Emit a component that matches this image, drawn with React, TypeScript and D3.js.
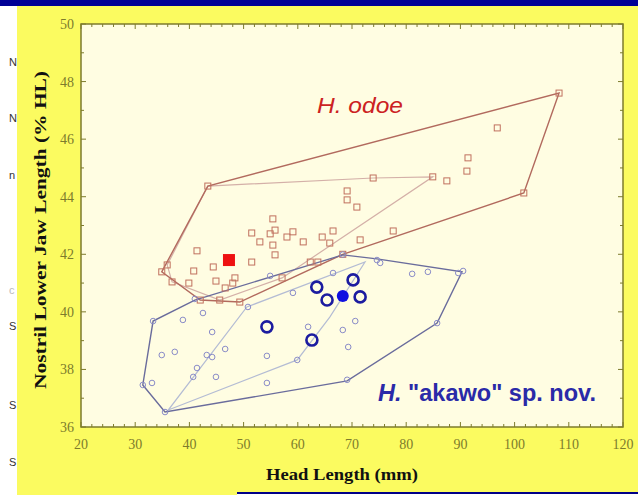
import React from "react";
import * as d3 from "d3";

// H. odoe (red squares) : head length (mm), nostril lower jaw length (% HL)
const odoeX = [73.9, 84.9, 69.1, 69.1, 70.9, 55.4, 55.8, 51.5, 54.9, 58.0, 59.1, 61.0, 64.5, 66.5, 65.9, 71.5, 77.6, 53.0, 55.4, 41.4, 55.8, 108.2, 96.8, 91.4, 91.2, 87.5, 101.7, 51.5, 35.9, 40.8, 44.4, 44.9, 39.9, 36.8, 34.9, 48.4, 48.0, 46.6, 45.6, 42.0, 49.3, 57.1, 62.3, 63.7, 68.3, 43.4];
const odoeY = [44.65, 44.69, 44.2, 43.89, 43.64, 43.23, 42.84, 42.74, 42.71, 42.6, 42.78, 42.43, 42.6, 42.81, 42.39, 42.5, 42.81, 42.43, 42.32, 42.12, 41.98, 47.6, 46.39, 45.35, 44.89, 44.55, 44.13, 41.73, 41.63, 41.42, 41.56, 41.07, 41.0, 41.04, 41.39, 41.18, 41.0, 40.83, 40.41, 40.41, 40.34, 41.18, 41.73, 41.73, 42.0, 44.37];
const odoeMean = [47.3, 41.8];
const odoeOuterX = [108.2, 101.7, 68.3, 49.3, 42.0, 34.9, 43.4];
const odoeOuterY = [47.6, 44.13, 42.0, 40.34, 40.41, 41.39, 44.37];
const odoeInnerX = [43.4, 73.9, 84.9, 57.1, 45.6, 36.8, 35.9];
const odoeInnerY = [44.37, 44.65, 44.69, 41.18, 40.41, 41.04, 41.63];

// H. "akawo" sp. nov. (blue circles)
const akawoX = [38.8, 44.2, 46.6, 43.2, 44.2, 37.3, 34.9, 41.4, 40.7, 44.9, 54.3, 54.3, 59.9, 61.9, 68.3, 69.3, 70.6, 66.5, 59.1, 50.8, 42.5, 54.9, 69.1, 31.4, 33.1, 35.5, 33.3, 41.0, 68.3, 74.6, 75.2, 81.1, 84.0, 89.6, 90.5, 85.7];
const akawoY = [39.72, 39.3, 38.71, 38.5, 38.43, 38.61, 38.5, 38.05, 37.74, 37.74, 38.47, 37.53, 38.33, 39.48, 39.37, 38.78, 39.68, 41.35, 40.66, 40.17, 39.96, 41.25, 37.64, 37.46, 37.53, 36.52, 39.68, 40.45, 41.99, 41.8, 41.7, 41.32, 41.39, 41.35, 41.42, 39.61];
const akawoBigX = [63.5, 65.4, 70.2, 71.5, 54.3, 62.6];
const akawoBigY = [40.86, 40.41, 41.11, 40.52, 39.48, 39.02];
const akawoMean = [68.3, 40.55];
const akawoOuterX = [41.0, 68.3, 74.6, 90.3, 85.7, 69.1, 35.5, 31.4, 33.3];
const akawoOuterY = [40.41, 41.98, 41.84, 41.39, 39.61, 37.6, 36.52, 37.46, 39.68];
const akawoInnerX = [50.6, 72.4, 65.9, 59.9, 36.1];
const akawoInnerY = [40.17, 41.73, 39.82, 38.33, 36.59];

const xTicks = [20, 30, 40, 50, 60, 70, 80, 90, 100, 110, 120];
const yTicks = [36, 38, 40, 42, 44, 46, 48, 50];
const sideLetters = ["N", "N", "n", "c", "S", "S", "S"];
const sideLetterY = [62, 118, 175, 290, 326, 405, 462];

const W = 638;
const H = 495;
const left = 81, right = 623, top = 24, bottom = 427;

const App = () => {
  const x = d3.scaleLinear().domain([20, 120]).range([left, right]);
  const y = d3.scaleLinear().domain([36, 50]).range([bottom, top]);

  const poly = (xs, ys) =>
    d3.line().curve(d3.curveLinearClosed)(xs.map((v, i) => [x(v), y(ys[i])]));

  const xMinor = d3.range(20, 121, 2);
  const yMinor = d3.range(36, 50.1, 1);
  const olive = "#7d7b2c";
  const serif = "Liberation Serif, Times New Roman, serif";

  return (
    <div style={{ position: "absolute", left: 0, top: 0 }}>
      <svg width={W} height={H} style={{ display: "block" }}>
        <rect x={0} y={0} width={W} height={H} fill="#ffffff" />
        <rect x={17} y={0} width={W - 17} height={H} fill="#fbfb60" />
        <rect x={0} y={0} width={W} height={6} fill="#000096" />
        {sideLetters.map((s, i) => (
          <text key={i} x={9} y={sideLetterY[i] + 4} fontFamily="Liberation Sans, Arial" fontSize={11}
            fill={s === "c" ? "#bbbbbb" : "#333333"}>{s}</text>
        ))}
        <rect x={237} y={492} width={W - 237} height={2} fill="#000088" />
        <rect x={237} y={494} width={W - 237} height={1} fill="#ffffff" />

        <rect x={left} y={top} width={right - left} height={bottom - top} fill="#fffde2" stroke={olive} strokeWidth={1.5} />

        {xMinor.map((t) => {
          const len = t % 10 === 0 ? 5 : 3;
          return (
            <g key={"xm" + t} stroke={olive} strokeWidth={1}>
              <line x1={x(t)} x2={x(t)} y1={bottom} y2={bottom - len} />
              <line x1={x(t)} x2={x(t)} y1={top} y2={top + len} />
            </g>
          );
        })}
        {yMinor.map((t) => {
          const len = t % 2 === 0 ? 5 : 3;
          return (
            <g key={"ym" + t} stroke={olive} strokeWidth={1}>
              <line x1={left} x2={left + len} y1={y(t)} y2={y(t)} />
              <line x1={right} x2={right - len} y1={y(t)} y2={y(t)} />
            </g>
          );
        })}
        {xTicks.map((t) => (
          <text key={"xt" + t} x={x(t)} y={449} textAnchor="middle" fontFamily={serif}
            fontSize={14} fill={olive}>{t}</text>
        ))}
        {yTicks.map((t) => (
          <text key={"yt" + t} x={left - 7} y={y(t) + 5} textAnchor="end" fontFamily={serif}
            fontSize={14} fill={olive}>{t}</text>
        ))}

        <text x={342} y={480} textAnchor="middle" fontFamily={serif} fontWeight="bold"
          fontSize={17} textLength={152} lengthAdjust="spacingAndGlyphs" fill="#111">Head Length (mm)</text>
        <text transform="translate(46,230) rotate(-90)" textAnchor="middle" fontFamily={serif}
          fontWeight="bold" fontSize={17} textLength={318} lengthAdjust="spacingAndGlyphs" fill="#111">Nostril Lower Jaw Length (% HL)</text>

        {/* hulls */}
        <path d={poly(odoeInnerX, odoeInnerY)} fill="none" stroke="#d4b0a8" strokeWidth={1.2} />
        <path d={poly(akawoInnerX, akawoInnerY)} fill="none" stroke="#b4bcd4" strokeWidth={1.2} />
        <path d={poly(odoeOuterX, odoeOuterY)} fill="none" stroke="#b26a5e" strokeWidth={1.4} />
        <path d={poly(akawoOuterX, akawoOuterY)} fill="none" stroke="#6a6c9c" strokeWidth={1.4} />

        {/* points */}
        {odoeX.map((v, i) => (
          <rect key={"o" + i} x={x(v) - 3} y={y(odoeY[i]) - 3} width={6} height={6} fill="none" stroke="#c0705e" strokeWidth={1} />
        ))}
        {akawoX.map((v, i) => (
          <circle key={"a" + i} cx={x(v)} cy={y(akawoY[i])} r={2.8} fill="none" stroke="#8a8cc8" strokeWidth={1} />
        ))}
        {akawoBigX.map((v, i) => (
          <circle key={"b" + i} cx={x(v)} cy={y(akawoBigY[i])} r={5.5} fill="none" stroke="#1c1ca0" strokeWidth={2.6} />
        ))}
        <rect x={x(odoeMean[0]) - 6} y={y(odoeMean[1]) - 6} width={12} height={12} fill="#ee1111" />
        <circle cx={x(akawoMean[0])} cy={y(akawoMean[1])} r={6} fill="#1010e0" />

        <text x={317} y={113} fontFamily="Liberation Sans, Arial" fontStyle="italic" fontSize={22}
          textLength={86} lengthAdjust="spacingAndGlyphs" fill="#cc2222">H. odoe</text>
        <text x={378} y={401} fontFamily="Liberation Sans, Arial" fontWeight="bold" fontSize={23}
          textLength={218} lengthAdjust="spacingAndGlyphs" fill="#2a2aa8">
          <tspan fontStyle="italic">H.</tspan> "akawo" sp. nov.
        </text>
      </svg>
    </div>
  );
};

export default App;
